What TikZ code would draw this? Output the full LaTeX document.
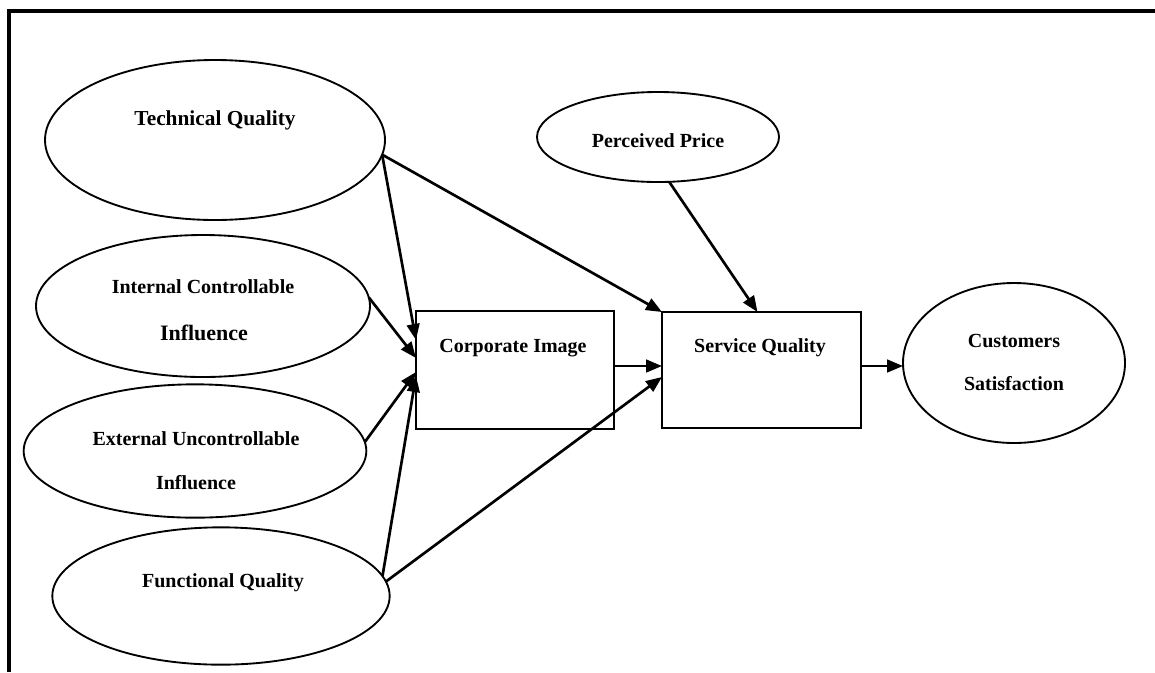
\documentclass[tikz,border=0pt]{standalone}
\usepackage{fontspec}
\setmainfont{Liberation Serif}
\usetikzlibrary{shapes.geometric,arrows.meta,calc}

\tikzset{
  oval/.style={ellipse, draw, line width=1.4pt, inner sep=0pt, outer sep=0pt},
  box/.style={rectangle, draw, line width=1.8pt, inner sep=0pt, outer sep=0pt},
  lbl/.style={anchor=base, inner sep=0pt, font=\bfseries\fontsize{15}{18}\selectfont},
  arr/.style={line width=2pt, -{Triangle[length=12pt,width=9.5pt]}},
  frame/.style={line width=2.8pt}
}

\begin{document}
\begin{tikzpicture}[x=0.75pt,y=-0.75pt]
  \useasboundingbox (0,0) rectangle (1155,672);

  % outer frame (top and left edges)
  \draw[frame] (1155,11) -- (9,11) -- (9,672);

  % shapes
  \node[oval, minimum width=255pt, minimum height=120pt] (tq) at (215,140) {};
  \node[oval, minimum width=250.5pt, minimum height=106.5pt] (ici) at (203,306) {};
  \node[oval, minimum width=257pt, minimum height=100pt] (eui) at (195,451) {};
  \node[oval, minimum width=253pt, minimum height=103pt] (fq) at (221,596) {};
  \node[oval, minimum width=181.5pt, minimum height=67.5pt] (pp) at (658,137) {};
  \node[oval, minimum width=166.5pt, minimum height=120pt] (cs) at (1014,363) {};
  \node[box, minimum width=148.5pt, minimum height=88.5pt] (ci) at (515,370) {};
  \node[box, minimum width=149.25pt, minimum height=87pt] (sq) at (761.5,370) {};

  % labels
  \node[lbl, font=\bfseries\fontsize{16}{19}\selectfont] (tqt) at (215,125) {Technical Quality};
  \node[lbl] (icit1) at (203,293) {Internal Controllable};
  \node[lbl, font=\bfseries\fontsize{16.5}{19}\selectfont] (icit2) at (204,340) {Influence};
  \node[lbl] (euit1) at (196,445) {External Uncontrollable};
  \node[lbl] (euit2) at (196,489) {Influence};
  \node[lbl] (fqt) at (223,587) {Functional Quality};
  \node[lbl] (ppt) at (658,147) {Perceived Price};
  \node[lbl] (cit) at (513,352) {Corporate Image};
  \node[lbl] (sqt) at (760,352) {Service Quality};
  \node[lbl] (cst1) at (1014,347) {Customers};
  \node[lbl] (cst2) at (1014,390) {Satisfaction};

  % connectors into Corporate Image
  \draw[arr] (tq.-5) -- ($(ci.west)+(0,-30)$);
  \draw[arr] (ici.3) -- ($(ci.west)+(0,-12)$);
  \draw[arr] (eui.3) -- ($(ci.west)+(0,2)$);
  \draw[arr] (fq.7) -- ($(ci.west)+(0,6)$);

  % connectors into Service Quality
  \draw[arr] (tq.-5) -- (sq.north west);
  \draw[arr] (pp.-76) -- ($(sq.north)+(-4,0)$);
  \draw[arr] ($(ci.east)+(0,-4)$) -- ($(sq.west)+(0,-4)$);
  \draw[arr] (fq.5) -- ($(sq.west)+(0,7)$);

  % Service Quality to Customers Satisfaction
  \draw[arr] ($(sq.east)+(0,-4)$) coordinate (s1) -- (s1 -| cs.west);
\end{tikzpicture}
\end{document}
